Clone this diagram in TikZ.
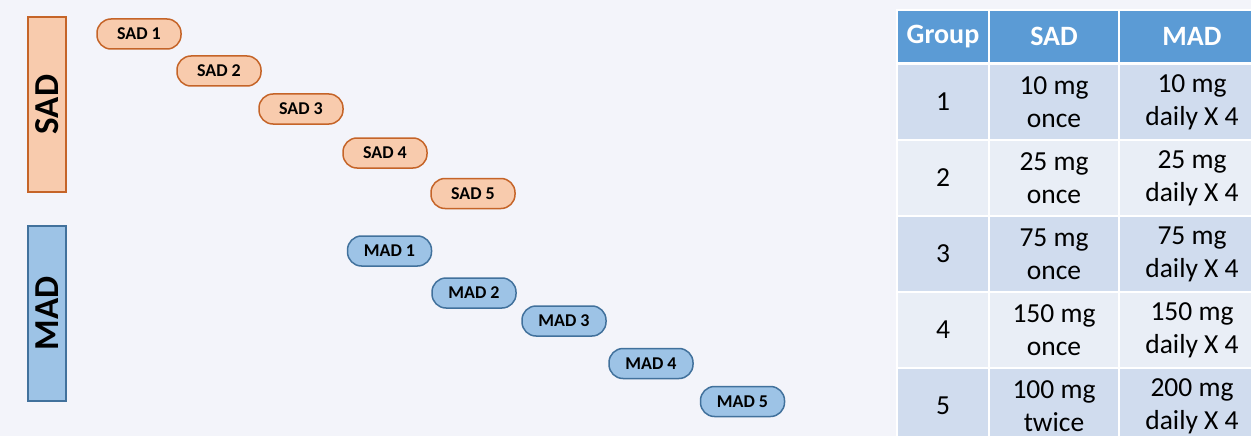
\documentclass[tikz,border=0pt]{standalone}
\usepackage{fontspec}
\setmainfont{Carlito}
\definecolor{bg}{RGB}{243,244,250}
\definecolor{orfill}{RGB}{248,203,173}
\definecolor{ordraw}{RGB}{197,100,40}
\definecolor{blfill}{RGB}{157,195,230}
\definecolor{bldraw}{RGB}{65,113,156}
\definecolor{hdr}{RGB}{91,155,213}
\definecolor{banddark}{RGB}{208,220,238}
\definecolor{bandlight}{RGB}{233,238,246}
\tikzset{
  sadbar/.style={draw=ordraw, fill=orfill, line width=1.2pt, rotate=90,
    minimum width=175pt, minimum height=38pt, inner sep=0pt,
    font=\fontsize{35}{35}\selectfont\bfseries},
  madbar/.style={sadbar, draw=bldraw, fill=blfill},
  sadpill/.style={draw=ordraw, fill=orfill, line width=1.5pt, rounded corners=14pt,
    minimum width=84pt, minimum height=30pt, inner sep=0pt,
    font=\fontsize{18}{18}\selectfont\bfseries},
  madpill/.style={sadpill, draw=bldraw, fill=blfill},
  cell/.style={draw=white, line width=2.5pt, inner sep=0pt, align=center,
    font=\fontsize{27.5}{33}\selectfont},
  ca/.style={cell, minimum width=92pt},
  cb/.style={cell, minimum width=130pt},
  cc/.style={cell, minimum width=146pt},
  hrow/.style={fill=hdr, minimum height=53pt, text=white,
    font=\fontsize{28}{30}\selectfont\bfseries},
  drow/.style={fill=banddark, minimum height=76pt},
  lrow/.style={fill=bandlight, minimum height=76pt}
}
\begin{document}
\begin{tikzpicture}[x=1pt,y=-1pt]
\useasboundingbox (0,0) rectangle (1251,436);
\clip (0,0) rectangle (1251,436);
\fill[bg] (0,0) rectangle (1251,436);

% side bars
\node[sadbar] (sadbar) at (47,104.5) {SAD};
\node[madbar] (madbar) at (47,313.5) {MAD};

% SAD pills
\node[sadpill] (sad1) at (139,34) {SAD 1};
\node[sadpill] (sad2) at (219,71) {SAD 2};
\node[sadpill] (sad3) at (301,109) {SAD 3};
\node[sadpill] (sad4) at (385,153) {SAD 4};
\node[sadpill] (sad5) at (473,193.5) {SAD 5};

% MAD pills
\node[madpill] (mad1) at (389.5,251) {MAD 1};
\node[madpill] (mad2) at (474,293) {MAD 2};
\node[madpill] (mad3) at (564,321) {MAD 3};
\node[madpill] (mad4) at (651,363.5) {MAD 4};
\node[madpill] (mad5) at (742.5,401.5) {MAD 5};

% table header
\node[ca,hrow] (h1) at (943,36.5) {Group};
\node[cb,hrow] (h2) at (1054,36.5) {SAD};
\node[cc,hrow] (h3) at (1192,36.5) {MAD};

% row 1
\node[ca,drow] (r1a) at (943,102) {1};
\node[cb,drow] (r1b) at (1054,102) {10 mg\\once};
\node[cc,drow] (r1c) at (1192,102) {10 mg\\daily X 4};
% row 2
\node[ca,lrow] (r2a) at (943,178) {2};
\node[cb,lrow] (r2b) at (1054,178) {25 mg\\once};
\node[cc,lrow] (r2c) at (1192,178) {25 mg\\daily X 4};
% row 3
\node[ca,drow] (r3a) at (943,254) {3};
\node[cb,drow] (r3b) at (1054,254) {75 mg\\once};
\node[cc,drow] (r3c) at (1192,254) {75 mg\\daily X 4};
% row 4
\node[ca,lrow] (r4a) at (943,330) {4};
\node[cb,lrow] (r4b) at (1054,330) {150 mg\\once};
\node[cc,lrow] (r4c) at (1192,330) {150 mg\\daily X 4};
% row 5
\node[ca,drow] (r5a) at (943,406) {5};
\node[cb,drow] (r5b) at (1054,406) {100 mg\\twice};
\node[cc,drow] (r5c) at (1192,406) {200 mg\\daily X 4};
\end{tikzpicture}
\end{document}
